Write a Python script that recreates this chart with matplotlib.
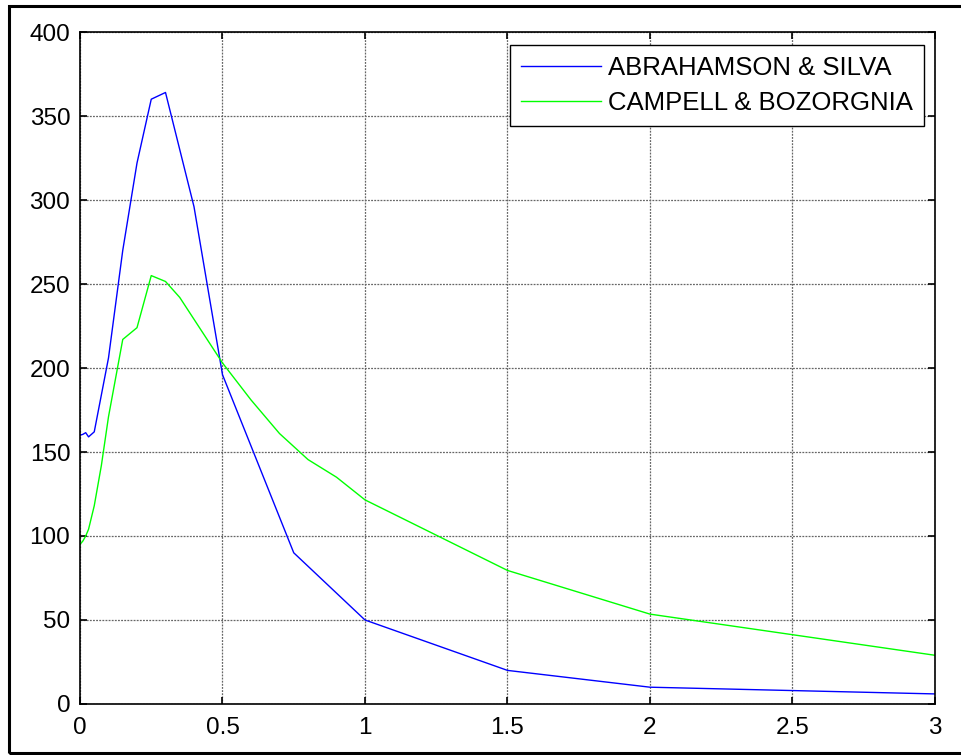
import matplotlib
matplotlib.use("Agg")
import matplotlib.pyplot as plt
from matplotlib.patches import Rectangle

plt.rcParams['font.family'] = ['Liberation Sans', 'DejaVu Sans']

# Abrahamson & Silva
as_period = [0.0, 0.01, 0.02, 0.03, 0.05, 0.075, 0.1, 0.15, 0.2, 0.25, 0.3, 0.4, 0.5, 0.75, 1.0, 1.5, 2.0, 3.0]
as_value = [160, 160.5, 161.5, 159, 162, 184, 206, 270, 322, 360, 364, 296, 196, 90, 50, 20, 10, 6]

# Campbell & Bozorgnia
cb_period = [0.0, 0.01, 0.02, 0.03, 0.05, 0.075, 0.1, 0.15, 0.2, 0.25, 0.3, 0.35, 0.4, 0.5, 0.6, 0.7, 0.8, 0.9, 1.0, 1.5, 2.0, 3.0]
cb_value = [95, 97, 100, 104, 118, 142, 171, 217, 224, 255, 251.5, 242, 229, 203, 181, 161, 145.5, 135, 121.5, 79.5, 53.5, 29]

labels = ['ABRAHAMSON & SILVA', 'CAMPELL & BOZORGNIA']

W, H = 962, 755
fig = plt.figure(figsize=(W / 100, H / 100), dpi=100)
ax = fig.add_axes([80 / W, 1 - 704 / H, (935 - 80) / W, (704 - 32) / H])

ax.plot(as_period, as_value, color='#0000ff', lw=1.0, label=labels[0])
ax.plot(cb_period, cb_value, color='#00ff00', lw=1.0, label=labels[1])

ax.set_xlim(0, 3)
ax.set_ylim(0, 400)
ax.set_xticks([0, 0.5, 1, 1.5, 2, 2.5, 3])
ax.set_xticklabels(['0', '0.5', '1', '1.5', '2', '2.5', '3'])
ax.set_yticks(range(0, 401, 50))
ax.grid(True, color='0.4', linestyle=(0, (1.5, 1)), linewidth=0.9)
ax.tick_params(direction='in', length=5, width=1.2, top=True, right=True,
               labelsize=17.5, colors='black')
ax.tick_params(axis='x', pad=9)
ax.tick_params(axis='y', pad=7)
for s in ax.spines.values():
    s.set_linewidth(1.2)
    s.set_color('black')

leg = ax.legend(loc='upper right', bbox_to_anchor=(0.987, 0.981), borderaxespad=0,
                fancybox=False, edgecolor='black', fontsize=18.5, handlelength=3.1,
                handletextpad=0.3, borderpad=0.42, labelspacing=0.45, framealpha=1)
leg.get_frame().set_linewidth(1.0)

fig.patches.append(Rectangle((9 / W, 1 - 753 / H), 1.0, (753 - 6) / H,
                             transform=fig.transFigure, fill=False,
                             edgecolor='black', linewidth=2.2))

fig.savefig('out.png', dpi=100)
